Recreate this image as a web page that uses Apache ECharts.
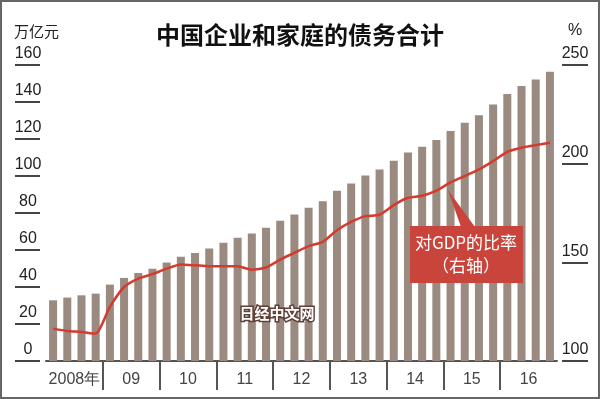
<!DOCTYPE html>
<html>
<head>
<meta charset="utf-8">
<script src="https://cdn.jsdelivr.net/npm/echarts@6/dist/echarts.min.js"></script>
<style>
  html, body { margin: 0; padding: 0; background: #fff; }
  #main { width: 600px; height: 399px; }
</style>
</head>
<body>
<div id="main"></div>
<script>
// 季度类别（2008年Q1 ~ 2016年Q4）
var quarters = [
  '08Q1','08Q2','08Q3','08Q4','09Q1','09Q2','09Q3','09Q4',
  '10Q1','10Q2','10Q3','10Q4','11Q1','11Q2','11Q3','11Q4',
  '12Q1','12Q2','12Q3','12Q4','13Q1','13Q2','13Q3','13Q4',
  '14Q1','14Q2','14Q3','14Q4','15Q1','15Q2','15Q3','15Q4',
  '16Q1','16Q2','16Q3','16Q4'
];
var years = ['2008年', '09', '10', '11', '12', '13', '14', '15', '16'];

// 债务合计（万亿元，左轴）
var debt = [
  32.8, 34.3, 35.5, 36.4, 41.3, 44.9, 47.6, 49.8,
  53.2, 56.3, 58.4, 60.8, 63.9, 66.6, 68.9, 72.0,
  75.8, 79.2, 82.8, 86.4, 92.0, 96.0, 100.3, 103.5,
  108.2, 112.7, 115.8, 119.4, 124.3, 128.8, 132.9, 138.7,
  144.3, 148.6, 152.2, 156.4
];

// 对GDP的比率（%，右轴）
var ratio = [
  116.4, 115.2, 114.7, 113.9, 127.4, 137.5, 141.8, 144.0,
  146.8, 148.9, 148.5, 148.0, 148.0, 148.0, 146.3, 147.4,
  151.4, 154.8, 158.2, 160.4, 166.3, 170.5, 173.4, 174.1,
  179.0, 182.7, 183.7, 186.3, 190.5, 193.7, 197.1, 201.3,
  206.0, 208.1, 209.4, 210.6
];

var tickFont = '"Liberation Sans Narrow", "Liberation Sans", sans-serif';

var chart = echarts.init(document.getElementById('main'));
var option = {
  backgroundColor: '#fff',
  animation: false,
  title: {
    text: '中国企业和家庭的债务合计',
    left: 'center',
    top: 18,
    textStyle: {
      fontFamily: 'Noto Sans CJK SC',
      fontSize: 24,
      fontWeight: 'bold',
      color: '#111'
    }
  },
  grid: [
    { left: 46, right: 43, top: 65, bottom: 38 },
    { left: 46, right: 43, top: 361, height: 29 }
  ],
  xAxis: [
    {
      type: 'category',
      data: quarters,
      gridIndex: 0,
      position: 'bottom',
      axisLine: { lineStyle: { color: '#555', width: 2 } },
      axisTick: { show: false },
      axisLabel: { show: false }
    },
    {
      type: 'category',
      data: years,
      gridIndex: 0,
      position: 'bottom',
      axisLine: { show: false },
      axisTick: { show: false },
      axisLabel: {
        interval: 0,
        margin: 11,
        fontFamily: tickFont,
        fontSize: 16,
        color: '#444'
      }
    },
    {
      type: 'category',
      data: years,
      gridIndex: 1,
      axisLine: { show: false },
      axisTick: { show: false },
      axisLabel: { show: false },
      splitLine: {
        show: true,
        interval: 0,
        showMinLine: false,
        showMaxLine: false,
        lineStyle: { color: '#555', width: 2 }
      }
    }
  ],
  yAxis: [
    {
      type: 'value',
      gridIndex: 0,
      min: 0,
      max: 160,
      interval: 20,
      position: 'left',
      offset: 6,
      axisLine: { show: false },
      axisTick: { show: true, length: 25, lineStyle: { color: '#444', width: 2 } },
      splitLine: { show: false },
      axisLabel: {
        margin: 12,
        align: 'center',
        verticalAlign: 'bottom',
        padding: [0, 0, 3, 0],
        fontFamily: tickFont,
        fontSize: 16,
        color: '#222'
      }
    },
    {
      type: 'value',
      gridIndex: 0,
      min: 100,
      max: 250,
      interval: 50,
      position: 'right',
      offset: 5,
      axisLine: { show: false },
      axisTick: { show: true, length: 26, lineStyle: { color: '#444', width: 2 } },
      splitLine: { show: false },
      axisLabel: {
        margin: 13,
        align: 'center',
        verticalAlign: 'bottom',
        padding: [0, 0, 3, 0],
        fontFamily: tickFont,
        fontSize: 16,
        color: '#222'
      }
    },
    {
      type: 'value',
      gridIndex: 1,
      show: false
    }
  ],
  series: [
    {
      name: '债务合计',
      type: 'bar',
      xAxisIndex: 0,
      yAxisIndex: 0,
      data: debt,
      barWidth: 8,
      itemStyle: { color: '#9a8a7f' }
    },
    {
      name: '对GDP的比率',
      type: 'line',
      xAxisIndex: 0,
      yAxisIndex: 1,
      data: ratio,
      smooth: 0.2,
      symbol: 'none',
      lineStyle: { color: '#d63a2f', width: 2.5 },
      z: 5
    }
  ],
  graphic: [
    {
      type: 'text',
      left: 14,
      top: 24,
      style: { text: '万亿元', font: '15px "Noto Sans CJK SC"', fill: '#222' }
    },
    {
      type: 'text',
      left: 568,
      top: 23,
      style: { text: '%', font: '16px ' + tickFont, fill: '#222' }
    },
    {
      type: 'text',
      x: 277,
      y: 313,
      z: 10,
      style: {
        text: '日经中文网',
        font: 'bold 15px "Noto Sans CJK SC"',
        fill: '#fff',
        stroke: '#5e3f37',
        lineWidth: 3,
        align: 'center',
        verticalAlign: 'middle'
      }
    },
    {
      type: 'polygon',
      z: 10,
      shape: { points: [[448, 190], [461, 227], [475, 227]] },
      style: { fill: '#c9453c' }
    },
    {
      type: 'rect',
      z: 10,
      shape: { x: 410, y: 226, width: 113, height: 57 },
      style: { fill: '#c9453c' }
    },
    {
      type: 'text',
      x: 466,
      y: 243,
      z: 11,
      style: {
        text: '对GDP的比率',
        font: '17px "Noto Sans CJK SC"',
        fill: '#fff',
        align: 'center',
        verticalAlign: 'middle'
      }
    },
    {
      type: 'text',
      x: 466,
      y: 266,
      z: 11,
      style: {
        text: '（右轴）',
        font: '17px "Noto Sans CJK SC"',
        fill: '#fff',
        align: 'center',
        verticalAlign: 'middle'
      }
    },
    {
      type: 'rect',
      z: 20,
      shape: { x: 1, y: 1, width: 598, height: 397 },
      style: { fill: 'none', stroke: '#666', lineWidth: 2 }
    }
  ]
};
chart.setOption(option);
</script>
</body>
</html>
